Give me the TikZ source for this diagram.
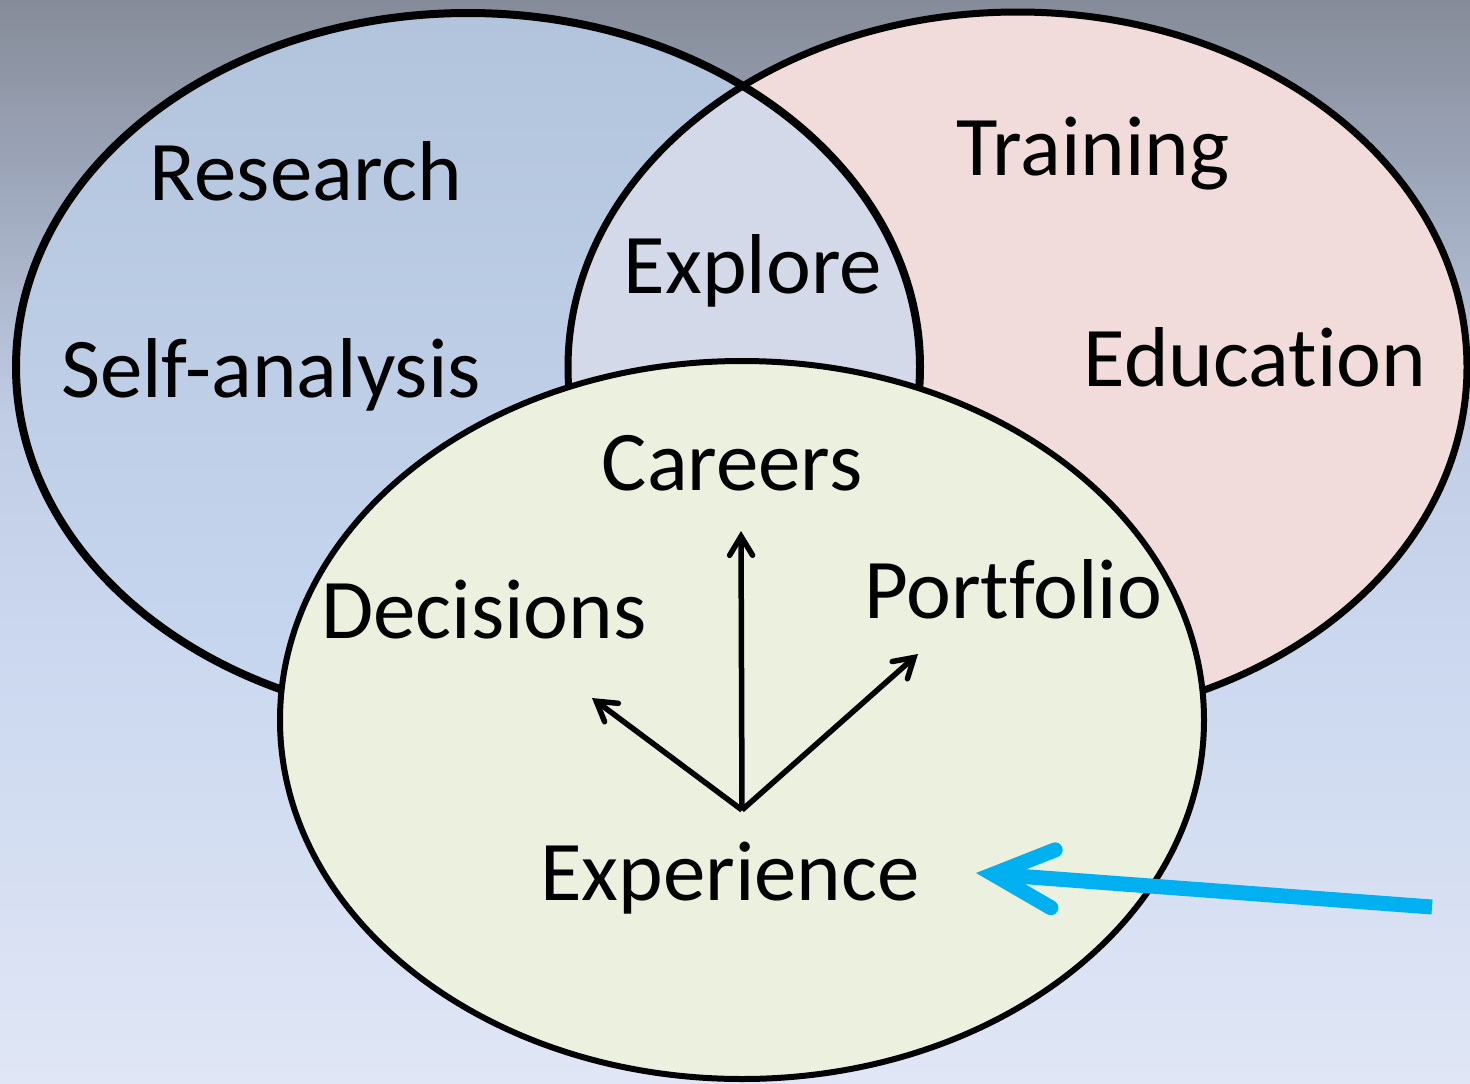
\documentclass[tikz,border=0pt]{standalone}
\usepackage{fontspec}
\setmainfont{Carlito}[Ligatures=NoCommon]
\usetikzlibrary{arrows.meta}
\definecolor{bgtop}{RGB}{133,139,152}
\definecolor{bgA}{RGB}{160,170,190}
\definecolor{bgB}{RGB}{192,205,228}
\definecolor{bgC}{RGB}{203,216,239}
\definecolor{bgbot}{RGB}{224,230,245}
\definecolor{bluetop}{RGB}{178,195,220}
\definecolor{bluebot}{RGB}{200,216,240}
\definecolor{pinkfill}{RGB}{242,220,219}
\definecolor{lensfill}{RGB}{212,217,234}
\definecolor{greenfill}{RGB}{235,241,222}
\definecolor{cyanline}{RGB}{0,176,240}
\pgfdeclareverticalshading{bgshade}{100bp}{color(0bp)=(bgbot); color(25bp)=(bgbot); color(45bp)=(bgC); color(55.6bp)=(bgB); color(65.8bp)=(bgA); color(75bp)=(bgtop); color(100bp)=(bgtop)}
\tikzset{
  lbl/.style={font=\fontsize{85}{98}\selectfont, anchor=base, inner sep=0pt, text=black},
  blkarrow/.style={line width=5.5pt, -{Straight Barb[length=19pt,width=23pt,line cap=round,line join=miter]}},
  cyanarrow/.style={draw=cyanline, line width=15pt, line cap=butt, -{Straight Barb[length=60pt,width=58pt,line cap=round,line join=miter]}},
  blueborder/.style={draw=black, line width=8pt},
  pinkborder/.style={draw=black, line width=7pt},
  greenborder/.style={draw=black, line width=6pt}
}
\begin{document}
\begin{tikzpicture}[x=1pt,y=-1pt]
  \useasboundingbox (0,0) rectangle (1470,1084);
  % background
  \shade[shading=bgshade] (0,0) rectangle (1470,1084);
  % blue and pink circles
  \shade[top color=bluetop, bottom color=bluebot] (468,367) ellipse [x radius=452, y radius=354];
  \fill[pinkfill] (1017.5,367) ellipse [x radius=449.5, y radius=355];
  \begin{scope}
    \clip (468,367) ellipse [x radius=452, y radius=354];
    \fill[lensfill] (1017.5,367) ellipse [x radius=449.5, y radius=355];
  \end{scope}
  \draw[blueborder] (468,367) ellipse [x radius=452, y radius=354];
  \draw[pinkborder] (1017.5,367) ellipse [x radius=449.5, y radius=355];
  % green circle
  \filldraw[fill=greenfill, greenborder] (742,720) ellipse [x radius=462, y radius=359];
  % labels
  \node[lbl] (research) at (306,200) {Research};
  \node[lbl] (self) at (271,397) {Self-analysis};
  \node[lbl] (explore) at (753,293) {Explore};
  \node[lbl] (training) at (1093,175) {Training};
  \node[lbl] (education) at (1255,386) {Education};
  \node[lbl] (careers) at (732,490) {Careers};
  \node[lbl] (decisions) at (484,638) {Decisions};
  \node[lbl] (portfolio) at (1013,618) {Portfolio};
  \node[lbl] (experience) at (730,900) {Experience};
  % black arrows
  \coordinate (o) at (742,810);
  \coordinate (tc) at (741,531);
  \coordinate (td) at (592,698);
  \coordinate (tp) at (918,654);
  \draw[blkarrow] (o) -- (tc);
  \draw[blkarrow] (o) -- (td);
  \draw[blkarrow] (o) -- (tp);
  % cyan arrow
  \coordinate (ctail) at (1432,907);
  \coordinate (chead) at (976,873);
  \draw[cyanarrow] (ctail) -- (chead);
\end{tikzpicture}
\end{document}
